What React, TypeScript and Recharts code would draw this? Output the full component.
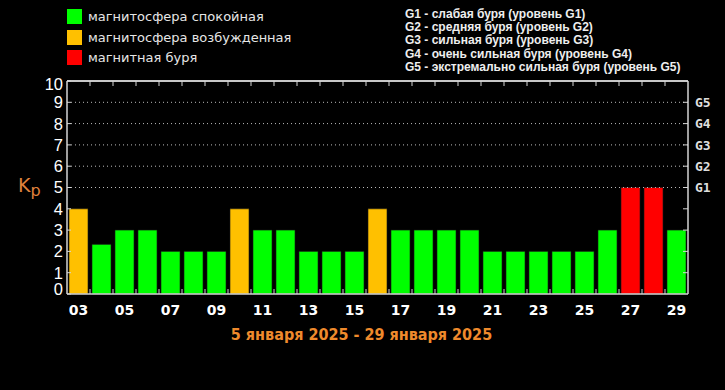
import React from "react";
import {
  Bar,
  Cell,
  ComposedChart,
  Line,
  ReferenceLine,
  XAxis,
  YAxis,
} from "recharts";

const days = [
  "03", "04", "05", "06", "07", "08", "09", "10", "11", "12", "13", "14", "15", "16",
  "17", "18", "19", "20", "21", "22", "23", "24", "25", "26", "27", "28", "29",
];
const kp = [
  4, 2.33, 3, 3, 2, 2, 2, 4, 3, 3, 2, 2, 2, 4, 3, 3, 3, 3, 2, 2, 2, 2, 2, 3, 5, 5, 3,
];
const kpTicks = [0, 1, 2, 3, 4, 5, 6, 7, 8, 9, 10];
const gridLevels = [5, 6, 7, 8, 9];
const stormTicks = [1, 2, 3, 4, 5, 6, 7, 8, 9];
const stormLabels = ["", "", "", "", "G1", "G2", "G3", "G4", "G5"];

const stateLegend = [
  { label: "магнитосфера спокойная", color: "#00ff00" },
  { label: "магнитосфера возбужденная", color: "#ffc000" },
  { label: "магнитная буря", color: "#ff0000" },
];
const stormLegend = [
  "G1 - слабая буря (уровень G1)",
  "G2 - средняя буря (уровень G2)",
  "G3 - сильная буря (уровень G3)",
  "G4 - очень сильная буря (уровень G4)",
  "G5 - экстремально сильная буря (уровень G5)",
];
const period = "5 января 2025 - 29 января 2025";

const data = days.map((day, i) => ({ day, kp: kp[i] }));

const barColor = (v: number) =>
  v >= 5 ? "#ff0000" : v >= 4 ? "#ffc000" : "#00ff00";

const AXIS = "#d4d4d4";

function KpTick(props: any) {
  const { x, y, payload } = props;
  const v = payload.value;
  const shift = v === 0 ? -5 : v === 10 ? 3 : 0;
  return (
    <text
      x={x}
      y={y + shift}
      dy="0.36em"
      textAnchor="end"
      fill="#ffffff"
      fontFamily="'Liberation Sans', Arial, sans-serif"
      fontSize={16.5}
    >
      {v}
    </text>
  );
}

function StormTick(props: any) {
  const { x, y, payload } = props;
  const label = stormLabels[payload.value - 1];
  if (!label) return null;
  return (
    <text
      x={x}
      y={y}
      dy="0.36em"
      textAnchor="start"
      fill="#dddddd"
      fontFamily="'DejaVu Sans Mono', monospace"
      fontWeight="bold"
      fontSize={13}
    >
      {label}
    </text>
  );
}

// bottom: label every other day + small inward tick at the left edge of each band
function DayTick(props: any) {
  const { x, y, payload, index } = props;
  const half = payload.offset ?? 0;
  return (
    <g>
      {index > 0 && (
        <line x1={x - half} x2={x - half} y1={y} y2={y - 5} stroke={AXIS} />
      )}
      {index % 2 === 0 && (
        <text
          x={x}
          y={y + 10}
          dy="0.75em"
          textAnchor="middle"
          fill="#ffffff"
          fontFamily="'DejaVu Sans', sans-serif"
          fontWeight="bold"
          fontSize={14}
        >
          {payload.value}
        </text>
      )}
    </g>
  );
}

function TopTick(props: any) {
  const { x, y, payload, index } = props;
  const half = payload.offset ?? 0;
  if (index === 0) return null;
  return <line x1={x - half} x2={x - half} y1={y} y2={y + 5} stroke={AXIS} />;
}

export default function App() {
  return (
    <div
      style={{
        position: "absolute",
        left: 0,
        top: 0,
        width: 725,
        height: 390,
        background: "#000",
        overflow: "hidden",
        fontFamily: "'DejaVu Sans', sans-serif",
      }}
    >
      {stateLegend.map((s, i) => (
        <div
          key={s.label}
          style={{
            position: "absolute",
            left: 67,
            top: 9 + i * 20.5,
            height: 15,
            display: "flex",
            alignItems: "center",
          }}
        >
          <span
            style={{ width: 15, height: 15, background: s.color, display: "inline-block" }}
          />
          <span
            style={{ marginLeft: 6, color: "#e6e6e6", fontSize: 13, whiteSpace: "nowrap" }}
          >
            {s.label}
          </span>
        </div>
      ))}

      <div
        style={{
          position: "absolute",
          left: 405,
          top: 8,
          color: "#eeeeee",
          fontFamily: "'Liberation Sans', Arial, sans-serif",
          fontWeight: "bold",
          fontSize: 12,
          lineHeight: "13.2px",
          whiteSpace: "nowrap",
        }}
      >
        {stormLegend.map((t) => (
          <div key={t}>{t}</div>
        ))}
      </div>

      <div
        style={{
          position: "absolute",
          left: 18,
          top: 174,
          color: "#e0823c",
          fontFamily: "'DejaVu Sans', sans-serif",
          fontSize: 19,
          whiteSpace: "nowrap",
        }}
      >
        K<span style={{ fontSize: 16, position: "relative", top: 4 }}>p</span>
      </div>

      <ComposedChart
        width={725}
        height={390}
        data={data}
        margin={{ top: 80, right: 0, bottom: 66, left: 0 }}
        barCategoryGap={2}
      >
        <XAxis
          dataKey="day"
          height={30}
          interval={0}
          tickLine={false}
          tickSize={0}
          tickMargin={0}
          tick={<DayTick />}
          axisLine={{ stroke: AXIS, strokeWidth: 1.5 }}
        />
        <XAxis
          xAxisId="top"
          orientation="top"
          dataKey="day"
          height={1}
          interval={0}
          tickLine={false}
          tickSize={0}
          tickMargin={0}
          tick={<TopTick />}
          axisLine={{ stroke: AXIS, strokeWidth: 1.5 }}
        />
        <YAxis
          width={67}
          domain={[0, 10]}
          ticks={kpTicks}
          interval={0}
          tickSize={-4}
          tickMargin={8}
          tick={<KpTick />}
          axisLine={{ stroke: AXIS, strokeWidth: 1.5 }}
          tickLine={{ stroke: AXIS }}
        />
        <YAxis
          yAxisId="right"
          orientation="right"
          width={37}
          domain={[0, 10]}
          ticks={stormTicks}
          interval={0}
          tickSize={-5}
          tickMargin={12}
          tick={<StormTick />}
          axisLine={{ stroke: AXIS, strokeWidth: 1.5 }}
          tickLine={{ stroke: AXIS }}
        />
        {gridLevels.map((g) => (
          <ReferenceLine key={g} y={g} stroke="#bbbbbb" strokeDasharray="1 3" />
        ))}
        <ReferenceLine y={10} stroke={AXIS} strokeWidth={1.5} />
        <Bar dataKey="kp" isAnimationActive={false} stroke="#1a1a1a" strokeWidth={0.6}>
          {data.map((d) => (
            <Cell key={d.day} fill={barColor(d.kp)} />
          ))}
        </Bar>
        {/* invisible series so the top and right axes get scales */}
        <Line
          xAxisId="top"
          yAxisId="right"
          dataKey="kp"
          stroke="none"
          dot={false}
          activeDot={false}
          isAnimationActive={false}
        />
      </ComposedChart>

      <div
        style={{
          position: "absolute",
          left: 0,
          width: 725,
          top: 325,
          textAlign: "center",
          color: "#ef8a2c",
          fontFamily: "'DejaVu Sans Condensed', 'DejaVu Sans', sans-serif",
          fontWeight: "bold",
          fontSize: 16,
        }}
      >
        <span style={{ position: "relative", left: -1 }}>{period}</span>
      </div>
    </div>
  );
}
